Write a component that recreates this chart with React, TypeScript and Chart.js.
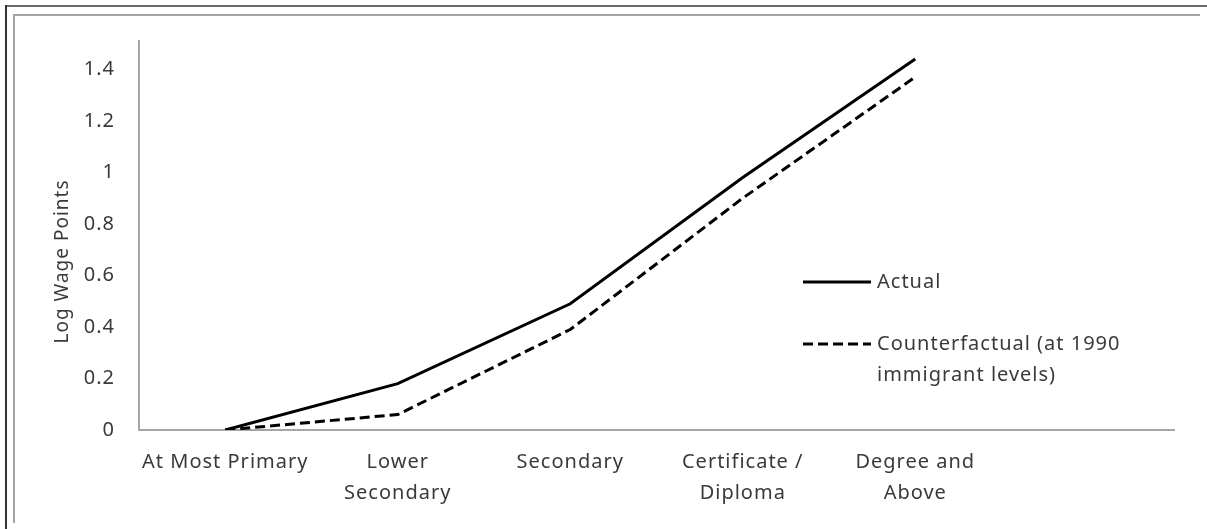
import React, { useEffect, useRef } from "react";
import { Chart, registerables } from "chart.js";

Chart.register(...registerables);

// ---- data ----
const categories: (string | string[])[] = [
  "At Most Primary",
  ["Lower", "Secondary"],
  "Secondary",
  ["Certificate /", "Diploma"],
  ["Degree and", "Above"],
  "",
];
const actualValues: (number | null)[] = [0, 0.18, 0.49, 0.98, 1.44, null];
const counterfactualValues: (number | null)[] = [0, 0.06, 0.39, 0.9, 1.37, null];
const seriesNames = ["Actual", "Counterfactual (at 1990 immigrant levels)"];
const legendLines: string[][] = [["Actual"], ["Counterfactual (at 1990", "immigrant levels)"]];
const yAxisTitle = "Log Wage Points";
const yMin = 0;
const yMax = 1.51;
const yStep = 0.2;

// ---- style ----
const FONT = '"Noto Sans", sans-serif';
const TEXT = "#3a3a3a";
const SPACING = "1px";
const DASH = [10, 5];

const spacingPlugin = {
  id: "letterSpacing",
  beforeUpdate(chart: any) {
    chart.ctx.letterSpacing = SPACING;
  },
  beforeLayout(chart: any) {
    chart.ctx.letterSpacing = SPACING;
  },
  beforeDraw(chart: any) {
    chart.ctx.letterSpacing = SPACING;
  },
};

const overlayPlugin = {
  id: "overlay",
  afterDraw(chart: any) {
    const ctx = chart.ctx as CanvasRenderingContext2D;
    const a = chart.chartArea;
    ctx.save();
    (ctx as any).letterSpacing = SPACING;
    ctx.font = `20px ${FONT}`;
    ctx.fillStyle = TEXT;
    ctx.textBaseline = "middle";
    ctx.textAlign = "left";
    // legend
    const lx0 = a.left + 664;
    const lx1 = a.left + 732;
    const tx = a.left + 738;
    const rows = [a.top + 241, a.top + 303];
    const lineH = 31;
    legendLines.forEach((lines, i) => {
      const y = rows[i];
      ctx.beginPath();
      ctx.strokeStyle = "#000";
      ctx.lineWidth = 3;
      ctx.lineCap = "butt";
      ctx.setLineDash(i === 0 ? [] : DASH);
      ctx.moveTo(lx0, y);
      ctx.lineTo(lx1, y);
      ctx.stroke();
      ctx.setLineDash([]);
      lines.forEach((t, j) => ctx.fillText(t, tx, y + j * lineH));
    });
    // y axis title
    ctx.translate(63, (a.top + a.bottom) / 2 + 26);
    ctx.rotate(-Math.PI / 2);
    ctx.textAlign = "center";
    ctx.font = `19px ${FONT}`;
    ctx.fillText(yAxisTitle, 0, 0);
    ctx.restore();
  },
};

export default function App() {
  const ref = useRef<HTMLCanvasElement>(null);
  useEffect(() => {
    const chart = new Chart(ref.current as HTMLCanvasElement, {
      type: "line",
      data: {
        labels: categories as any,
        datasets: [
          {
            label: seriesNames[0],
            data: actualValues,
            borderColor: "#000",
            borderWidth: 3,
            pointRadius: 0,
            tension: 0,
            fill: false,
          },
          {
            label: seriesNames[1],
            data: counterfactualValues,
            borderColor: "#000",
            borderWidth: 3,
            borderDash: DASH,
            pointRadius: 0,
            tension: 0,
            fill: false,
          },
        ],
      },
      options: {
        responsive: false,
        animation: false,
        devicePixelRatio: 1,
        layout: { padding: { left: 0, top: 41, right: 33, bottom: 0 } },
        plugins: { legend: { display: false }, tooltip: { enabled: false } },
        scales: {
          x: {
            type: "category",
            offset: true,
            grid: { display: true, color: "rgba(0,0,0,0)", drawTicks: false },
            border: { display: true, color: "#a6a6a6", width: 2 },
            ticks: {
              color: TEXT,
              font: { family: FONT, size: 20, lineHeight: 1.55 },
              padding: 17,
              maxRotation: 0,
              autoSkip: false,
            },
            afterFit(scale: any) {
              scale.height = 99;
            },
          },
          y: {
            min: yMin,
            max: yMax,
            grid: { display: true, color: "rgba(0,0,0,0)", drawTicks: false },
            border: { display: true, color: "#a6a6a6", width: 2 },
            ticks: {
              stepSize: yStep,
              includeBounds: false,
              color: TEXT,
              font: { family: FONT, size: 20 },
              padding: 24,
              callback: (v: any) => Number(v).toFixed(1).replace(/\.0$/, ""),
            },
            afterFit(scale: any) {
              scale.width = 139;
            },
          },
        },
      },
      plugins: [spacingPlugin, overlayPlugin],
    });
    return () => chart.destroy();
  }, []);

  return (
    <div style={{ position: "fixed", left: 0, top: 0, width: 1207, height: 529, background: "#fff" }}>
      <canvas
        ref={ref}
        width={1207}
        height={529}
        style={{ position: "absolute", left: 0, top: 0, width: 1207, height: 529 }}
      />
      <div style={{ position: "absolute", left: 5, top: 5, width: 1202, height: 2, background: "#6b6b6b" }} />
      <div style={{ position: "absolute", left: 5, top: 5, width: 2, height: 524, background: "#333" }} />
      <div style={{ position: "absolute", left: 13, top: 14, width: 1187, height: 2, background: "#a3a3a3" }} />
      <div style={{ position: "absolute", left: 13, top: 14, width: 2, height: 509, background: "#a3a3a3" }} />
    </div>
  );
}
